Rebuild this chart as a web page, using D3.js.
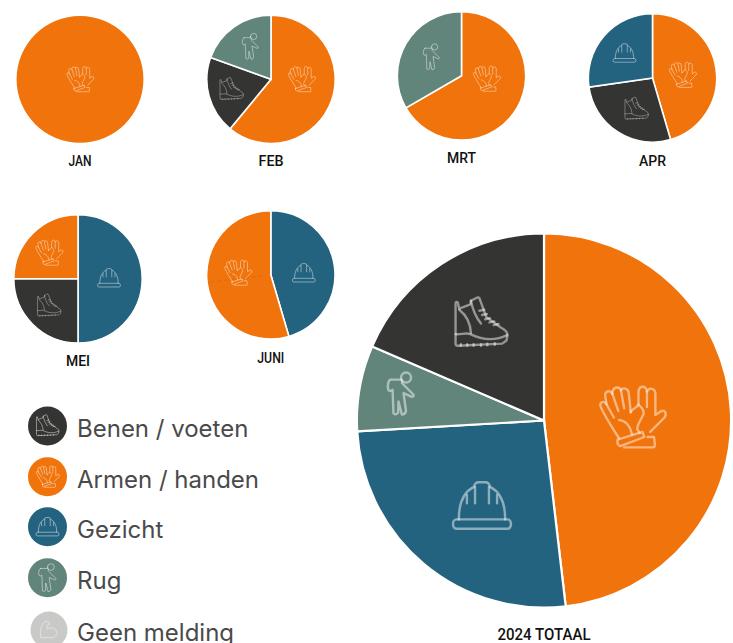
<!DOCTYPE html>
<html>
<head>
<meta charset="utf-8">
<script src="https://cdn.jsdelivr.net/npm/d3@7"></script>
<style>
  html, body { margin: 0; padding: 0; background: #fff; overflow: hidden; }
  svg { display: block; }
  .month { font-family: Roboto, sans-serif; font-weight: 500; fill: #111; text-anchor: middle; }
  .legend-label { font-family: Inter, sans-serif; font-weight: 400; font-size: 24px; fill: #4a4a4a; }
</style>
</head>
<body>
<svg id="chart" width="733" height="643"></svg>
<script>
// ─── data ─────────────────────────────────────────────────────────
const ARMS = "Armen / handen", LEGS = "Benen / voeten", FACE = "Gezicht", BACK = "Rug", NONE = "Geen melding";

const legendLabels = [LEGS, ARMS, FACE, BACK, NONE];

const chartLabels = ["JAN", "FEB", "MRT", "APR", "MEI", "JUNI", "2024 TOTAAL"];

const janParts = [ARMS],                   janValues = [1];
const febParts = [ARMS, LEGS, BACK],       febValues = [61, 19.5, 19.5];
const mrtParts = [ARMS, BACK],             mrtValues = [2, 1];
const aprParts = [ARMS, LEGS, FACE],       aprValues = [5, 3, 3];
const meiParts = [FACE, LEGS, ARMS],       meiValues = [2, 1, 1];
const juniParts = [FACE, ARMS],            juniValues = [5, 6];
const totalParts = [ARMS, FACE, BACK, LEGS], totalValues = [13, 7, 2, 5];

const allParts = [janParts, febParts, mrtParts, aprParts, meiParts, juniParts, totalParts];
const allValues = [janValues, febValues, mrtValues, aprValues, meiValues, juniValues, totalValues];

// faint leftover slice edge in the JUNI pie, as a share of the full turn
const juniSeamShare = 0.731;

// ─── layout ───────────────────────────────────────────────────────
const colour = d3.scaleOrdinal()
  .domain(legendLabels)
  .range(["#343433", "#f0730b", "#24637f", "#62857b", "#c9c9c8"]);

// centre, radius, label position and width, and icon offset per slice
const layout = [
  { x: 80,    y: 79.3,  r: 63.4, ly: 166, lw: 23, fs: 15,   icons: [[0, 0]] },
  { x: 271,   y: 79.3,  r: 63.4, ly: 166, lw: 25, fs: 15,   icons: [[30.5, 0], [-39.5, 10], [-20.5, -33]] },
  { x: 461.5, y: 75.8,  r: 63.4, ly: 163, lw: 29, fs: 15,   icons: [[25, 3], [-30, -19]] },
  { x: 652.5, y: 78,    r: 63.4, ly: 166, lw: 27, fs: 15,   icons: [[30, -3], [-16, 31], [-28, -25]] },
  { x: 78,    y: 278.8, r: 63.4, ly: 366, lw: 24, fs: 15,   icons: [[31, -1], [-29, 27], [-29, -26]] },
  { x: 270.8, y: 274.8, r: 63.4, ly: 363, lw: 27, fs: 15,   icons: [[33, -2], [-33, -2]] },
  { x: 544,   y: 420.5, r: 186,  ly: 639.5, lw: 93, fs: 17, icons: [[88, -3], [-62, 85], [-143, -27], [-63, -97]] }
];

const smallIcon = { [ARMS]: 27, [LEGS]: 24, [FACE]: 23, [BACK]: 26 };
const largeIcon = { [ARMS]: 65, [LEGS]: 53, [FACE]: 58, [BACK]: 42 };
const legendIcon = { [ARMS]: 23, [LEGS]: 23, [FACE]: 23, [BACK]: 28, [NONE]: 20 };

const legendRows = [
  { x: 47.5, y: 426, r: 19.5 }, { x: 47.5, y: 476.7, r: 19.5 },
  { x: 47.5, y: 526.7, r: 19.5 }, { x: 47.5, y: 577.7, r: 19.5 }, { x: 49, y: 630, r: 18.5 }
];

// line icons, all on a 100 x 100 box
const iconPaths = {
  [ARMS]: [
    "M30 82 C20 66 8 48 2 34 C-1 26 7 23 11 30 L22 50",
    "M11 30 L9 18 C7 9 17 7 20 14 L29 40",
    "M20 14 C19 3 30 1 33 8 L38 36",
    "M33 8 C36 3 44 5 45 12 L48 42",
    "M48 42 C52 34 58 36 60 30 L60 12 C60 0 72 0 73 10 C76 3 86 5 86 14 L86 46 L95 40 C101 38 104 44 100 50 L78 72",
    "M60 30 C66 36 68 38 68 44 C64 54 58 60 58 68 L62 74",
    "M73 10 L73 34",
    "M30 54 C40 54 48 64 50 76",
    "M28 84 L66 72 L69 80 L32 94 Q26 92 28 84 Z",
    "M38 96 L82 96 Q86 96 85 90 L84 80 L74 80"
  ],
  [LEGS]: [
    "M2 12 Q2 8 6 10 L9 22 L30 14 L31 7 L43 1 Q47 0 48 5 L60 38 L88 58 Q100 64 100 72 L98 82 L90 88 L6 92 Q2 92 2 88 Z",
    "M2 70 C12 72 20 66 30 70 C50 80 76 84 99 72",
    "M9 24 C22 34 30 50 31 68",
    "M31 7 C34 22 40 38 50 50",
    "M47 26 L56 24 M52 34 L61 32 M58 42 L67 40 M66 48 L75 46 M74 53 L83 51",
    "M12 92 V89 M24 92 V89 M36 92 V89 M50 92 V89 M62 91 V88 M76 90 V87"
  ],
  [FACE]: [
    "M6 74 C-2 74 -2 90 6 90 L94 90 C102 90 102 74 94 74 Z",
    "M10 74 C10 44 20 26 36 18 Q38 10 44 10 L56 10 Q62 10 64 18 C80 26 90 44 90 74",
    "M38 18 V46 M62 18 V46 M24 32 V46 M76 32 V46"
  ],
  [BACK]: [
    "M50 12 A12 12 0 1 1 74 12 A12 12 0 1 1 50 12 Z",
    "M25 17 L51 17 C54 20 53 24 52 25 L80 53 Q81 58 76 58 L56 49 L62 92 Q60 100 52 100 L44 69 L43 96 Q38 102 32 97 L30 41 Q26 46 21 43 Q17 36 19 29 Q20 19 25 17 Z"
  ],
  [NONE]: [
    "M10 88 C2 60 10 20 30 8 L50 10 L52 22 L40 28 L40 44 C60 34 84 40 90 62 C92 82 70 92 50 88 Z"
  ]
};

// ─── helpers ──────────────────────────────────────────────────────
const svg = d3.select("#chart");

const drawIcon = (parent, part, x, y, size, strokeWidth, opacity) => {
  const k = size / 100;
  parent.append("g")
    .attr("transform", `translate(${x - 50 * k}, ${y - 50 * k}) scale(${k})`)
    .selectAll("path")
    .data(iconPaths[part])
    .join("path")
    .attr("d", d => d)
    .attr("fill", "none")
    .attr("stroke", "#fff")
    .attr("stroke-opacity", opacity)
    .attr("stroke-width", strokeWidth)
    .attr("stroke-linejoin", "round")
    .attr("stroke-linecap", "round")
    .attr("vector-effect", "non-scaling-stroke");
};

const drawPie = (i) => {
  const box = layout[i];
  const parts = allParts[i];
  const big = box.r > 100;
  const sw = big ? 2.2 : 1.6;
  const whole = parts.length === 1;

  const pie = d3.pie().sort(null).value(d => d.value);
  // the white slice edge eats half its width, so grow the arc to keep the radius
  const arc = d3.arc().innerRadius(0).outerRadius(whole ? box.r : box.r + sw / 2);

  const g = svg.append("g").attr("transform", `translate(${box.x}, ${box.y})`);

  g.selectAll("path.slice")
    .data(pie(parts.map((p, j) => ({ part: p, value: allValues[i][j] }))))
    .join("path")
    .attr("class", "slice")
    .attr("d", arc)
    .attr("fill", d => colour(d.data.part))
    .attr("stroke", whole ? "none" : "#fff")
    .attr("stroke-width", sw);

  if (chartLabels[i] === "JUNI") {
    const turn = juniSeamShare * 2 * Math.PI;
    const seam = d3.lineRadial().angle(turn).radius(d => d);
    g.append("path")
      .attr("d", seam([8, box.r]))
      .attr("fill", "none")
      .attr("stroke", "#555")
      .attr("stroke-opacity", 0.2)
      .attr("stroke-dasharray", "4 3");
  }

  parts.forEach((p, j) => {
    const [dx, dy] = box.icons[j];
    const size = big ? largeIcon[p] : smallIcon[p];
    const faint = !big && p === LEGS ? 0.36 : 0.48;
    drawIcon(g, p, dx, dy, size, big ? 2.4 : 0.9, faint);
  });

  svg.append("text")
    .attr("class", "month")
    .attr("x", box.x)
    .attr("y", box.ly)
    .attr("textLength", box.lw)
    .attr("lengthAdjust", "spacingAndGlyphs")
    .style("font-size", `${box.fs}px`)
    .text(chartLabels[i]);
};

// ─── draw ─────────────────────────────────────────────────────────
d3.range(allValues.length).forEach(drawPie);

legendLabels.forEach((label, i) => {
  const row = legendRows[i];
  const g = svg.append("g");
  g.append("circle")
    .attr("cx", row.x).attr("cy", row.y).attr("r", row.r)
    .attr("fill", colour(label));
  drawIcon(g, label, row.x, row.y, legendIcon[label], 0.9, 0.5);
  g.append("text")
    .attr("class", "legend-label")
    .attr("x", 77)
    .attr("y", row.y + 11)
    .text(label);
});
</script>
</body>
</html>
